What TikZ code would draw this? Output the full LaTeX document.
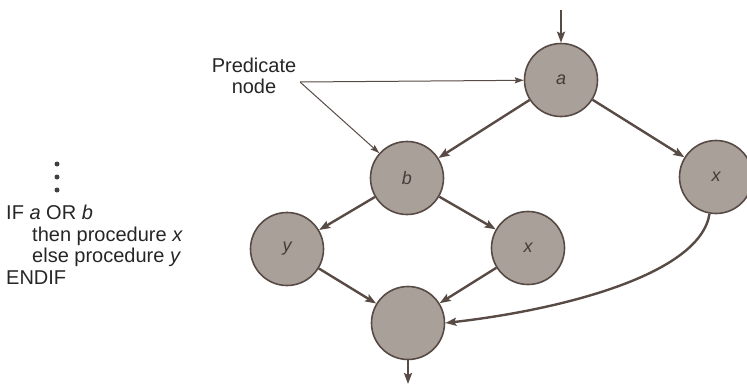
\documentclass[tikz,border=0pt]{standalone}
\usepackage{fontspec}
\setmainfont{Liberation Sans}
\usetikzlibrary{arrows.meta}
\definecolor{nodefill}{RGB}{170,160,154}
\definecolor{inkline}{RGB}{88,74,68}
\tikzset{
  flownode/.style={circle, draw=inkline, line width=1.6pt, fill=nodefill,
    minimum size=73pt, inner sep=0pt, font=\fontsize{18}{18}\selectfont\itshape, text=inkline!80!black},
  flow/.style={draw=inkline, line width=2.4pt, -{Stealth[length=11pt,width=8pt,inset=2pt]}},
  pointer/.style={draw=inkline, line width=1pt, -{Stealth[length=9pt,width=6pt,inset=1.5pt]}},
  codetext/.style={font=\fontsize{20}{21.5}\selectfont, text=black!85, align=left, anchor=north west, inner sep=0pt},
  dot/.style={circle, fill=black!75, inner sep=0pt, minimum size=5pt}
}
\begin{document}
\begin{tikzpicture}[x=1pt,y=-1pt]
\useasboundingbox (0,0) rectangle (747,386);

% flow-graph nodes
\node[flownode] (a) at (561,80) {a};
\node[flownode] (b) at (407,178) {b};
\node[flownode] (xr) at (716,177) {x};
\node[flownode] (y) at (287,249) {y};
\node[flownode] (xm) at (528,248) {x};
\node[flownode] (e) at (408,323) {};

% entry and exit
\coordinate (in) at (561,10);
\coordinate (out) at (408,384);
\draw[flow] (in) -- (a);
\draw[flow] (e) -- (out);

% edges of the graph
\draw[flow] (a) -- (b);
\draw[flow] (a) -- (xr);
\draw[flow] (b) -- (y);
\draw[flow] (b) -- (xm);
\draw[flow] (y) -- (e);
\draw[flow] (xm) -- (e);
\draw[flow] (xr.-100) .. controls (700,275) and (560,310) .. (e.east);

% label pointing at the predicate nodes
\node[font=\fontsize{20}{21}\selectfont, text=black!85, align=center, inner sep=0pt] (pl) at (254,76) {Predicate\\node};
\coordinate (ps) at (300,82);
\draw[pointer] (ps) -- (a);
\draw[pointer] (ps) -- (b);

% pseudo-code
\node[dot] (d1) at (57,164) {};
\node[dot] (d2) at (57,177) {};
\node[dot] (d3) at (57,190) {};
\node[codetext] (code) at (6,205) {IF \textit{a} OR \textit{b}\\
\hspace*{26pt}then procedure \textit{x}\\
\hspace*{26pt}else procedure \textit{y}\\
ENDIF};
\end{tikzpicture}
\end{document}
